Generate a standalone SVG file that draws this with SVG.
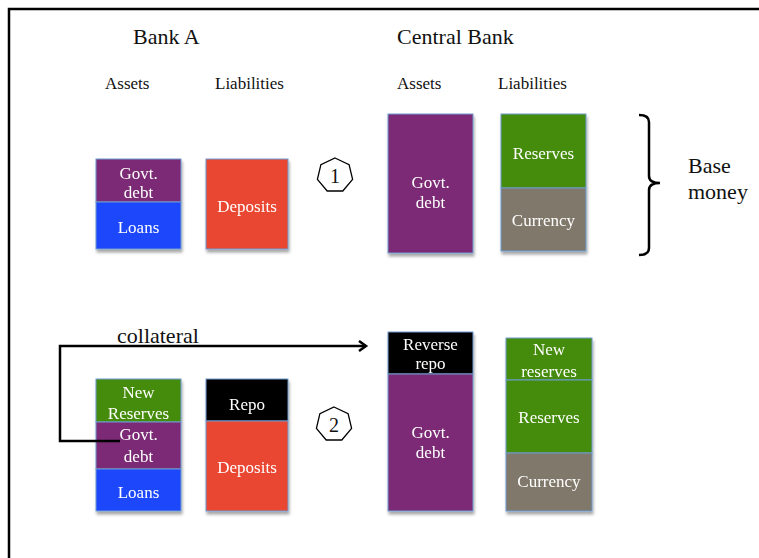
<svg xmlns="http://www.w3.org/2000/svg" width="759" height="558" viewBox="0 0 759 558">
<style>
.t{font-family:"Liberation Serif","Times New Roman",serif;fill:#111}
.w{font-family:"Liberation Serif","Times New Roman",serif;fill:#fff;font-size:17px;text-anchor:middle}
.b{stroke:#6f9bd0;stroke-width:1}
.sh{filter:url(#sh)}
.conn{fill:none;stroke:#000;stroke-width:2.5}
</style>
<defs>
<filter id="sh" x="-10%" y="-10%" width="130%" height="130%">
<feDropShadow dx="1" dy="3" stdDeviation="1.5" flood-color="#000" flood-opacity="0.35"/>
</filter>
<marker id="ah" markerWidth="12" markerHeight="12" refX="9" refY="6" orient="auto" markerUnits="userSpaceOnUse">
<path d="M2,1 L9,6 L2,11" fill="none" stroke="#000" stroke-width="2.5"/>
</marker>
</defs>
<rect width="759" height="558" fill="#fff"/>
<path d="M9,558 L9,9 L759,9" fill="none" stroke="#000" stroke-width="2.5"/>

<text class="t" x="133" y="44" font-size="22">Bank A</text>
<text class="t" x="397" y="44" font-size="22">Central Bank</text>
<text class="t" x="105" y="89" font-size="17">Assets</text>
<text class="t" x="215" y="89" font-size="17">Liabilities</text>
<text class="t" x="397" y="89" font-size="17">Assets</text>
<text class="t" x="498" y="89" font-size="17">Liabilities</text>

<g id="bankA-assets-1" class="sh">
<rect class="b" x="96" y="159" width="85" height="43" fill="#7b2c74"/>
<rect class="b" x="96" y="202" width="85" height="47" fill="#1c47fb"/>
<text class="w" x="138.5" y="179">Govt.</text>
<text class="w" x="138.5" y="198">debt</text>
<text class="w" x="138.5" y="233">Loans</text>
</g>
<g id="bankA-liab-1" class="sh">
<rect class="b" x="206" y="159" width="82" height="90" fill="#ea4630"/>
<text class="w" x="247" y="212">Deposits</text>
</g>
<g id="step1">
<polygon points="335,158 349.1,164.6 352.6,179.3 342.8,191 327.2,191 317.4,179.3 320.9,164.6" fill="#fff" stroke="#000" stroke-width="1.3"/>
<text class="t" x="335" y="183" font-size="20" text-anchor="middle">1</text>
</g>
<g id="cb-assets-1" class="sh">
<rect class="b" x="388" y="114" width="85" height="139" fill="#7b2c74"/>
<text class="w" x="430.5" y="188">Govt.</text>
<text class="w" x="430.5" y="208">debt</text>
</g>
<g id="cb-liab-1" class="sh">
<rect class="b" x="501" y="114" width="85" height="74" fill="#458c0b"/>
<rect class="b" x="501" y="188" width="85" height="63" fill="#80786a"/>
<text class="w" x="543.5" y="159">Reserves</text>
<text class="w" x="543.5" y="226">Currency</text>
</g>
<g id="base-money">
<path d="M639,115 Q649,115 649,122 L649,176 Q649,183 660,183 Q649,183 649,190 L649,248 Q649,255 639,255" fill="none" stroke="#000" stroke-width="2.5"/>
<text class="t" x="688" y="173" font-size="22">Base</text>
<text class="t" x="688" y="199" font-size="22">money</text>
</g>

<g id="bankA-assets-2" class="sh">
<rect class="b" x="96" y="379" width="85" height="43" fill="#458c0b"/>
<rect class="b" x="96" y="422" width="85" height="47" fill="#7b2c74"/>
<rect class="b" x="96" y="469" width="85" height="42" fill="#1c47fb"/>
<text class="w" x="138.5" y="398">New</text>
<text class="w" x="138.5" y="419">Reserves</text>
<text class="w" x="138.5" y="440">Govt.</text>
<text class="w" x="138.5" y="462">debt</text>
<text class="w" x="138.5" y="498">Loans</text>
</g>
<g id="bankA-liab-2" class="sh">
<rect class="b" x="206" y="379" width="82" height="42" fill="#000"/>
<rect class="b" x="206" y="421" width="82" height="90" fill="#ea4630"/>
<text class="w" x="247" y="410">Repo</text>
<text class="w" x="247" y="473">Deposits</text>
</g>
<g id="step2">
<polygon points="334,407 348.1,413.6 351.6,428.3 341.8,440 326.2,440 316.4,428.3 319.9,413.6" fill="#fff" stroke="#000" stroke-width="1.3"/>
<text class="t" x="334" y="432" font-size="20" text-anchor="middle">2</text>
</g>
<g id="cb-assets-2" class="sh">
<rect class="b" x="388" y="332" width="85" height="42" fill="#000"/>
<rect class="b" x="388" y="374" width="85" height="137" fill="#7b2c74"/>
<text class="w" x="430.5" y="350">Reverse</text>
<text class="w" x="430.5" y="369">repo</text>
<text class="w" x="430.5" y="438">Govt.</text>
<text class="w" x="430.5" y="458">debt</text>
</g>
<g id="cb-liab-2" class="sh">
<rect class="b" x="506" y="338" width="86" height="42" fill="#458c0b"/>
<rect class="b" x="506" y="380" width="86" height="73" fill="#458c0b"/>
<rect class="b" x="506" y="453" width="86" height="58" fill="#80786a"/>
<text class="w" x="549" y="355">New</text>
<text class="w" x="549" y="377">reserves</text>
<text class="w" x="549" y="423">Reserves</text>
<text class="w" x="549" y="487">Currency</text>
</g>

<g id="connectors">
<polyline class="conn" points="120,441 60,441 60,346 366,346" marker-end="url(#ah)"/>
<text class="t" x="117" y="343" font-size="22">collateral</text>
</g>
</svg>
